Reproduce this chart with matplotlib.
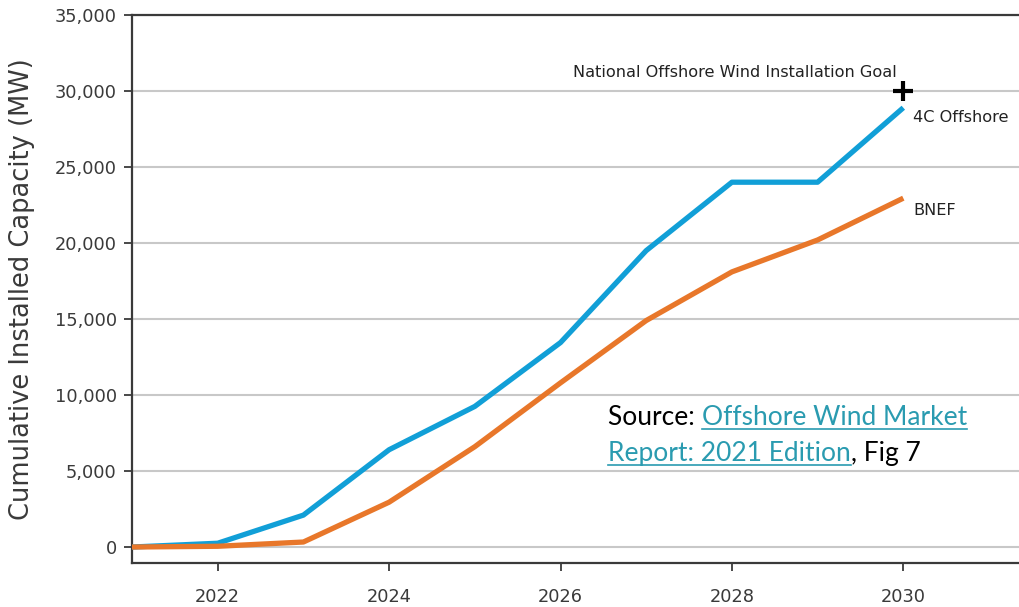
import matplotlib
matplotlib.use("Agg")
import matplotlib.pyplot as plt
from matplotlib.lines import Line2D

years = [2021, 2022, 2023, 2024, 2025, 2026, 2027, 2028, 2029, 2030]
offshore_4c = [0, 250, 2100, 6400, 9250, 13450, 19500, 24000, 24000, 28900]
bnef = [0, 50, 330, 2950, 6600, 10800, 14900, 18100, 20200, 22950]
goal_year = 2030
goal_value = 30000
xticks = [2022, 2024, 2026, 2028, 2030]
yticks = [0, 5000, 10000, 15000, 20000, 25000, 30000, 35000]

FAM = 'DejaVu Sans'
TXT = '#3a3a3a'

fig = plt.figure(figsize=(10.19, 6.07), dpi=100)
ax = fig.add_axes([132 / 1019, 0.0725, 887 / 1019, 0.9028])

ax.plot(years, offshore_4c, color='#119fd7', lw=3.8, solid_capstyle='butt', zorder=3)
ax.plot(years, bnef, color='#e8772a', lw=3.8, solid_capstyle='butt', zorder=3)
ax.plot([goal_year], [goal_value], marker='+', color='black', markersize=14, mew=3, zorder=4)

ax.set_xlim(2021, 2031.35)
ax.set_ylim(-1050, 35000)
ax.set_xticks(xticks)
ax.set_xticklabels([str(t) for t in xticks])
ax.set_yticks(yticks)
ax.set_yticklabels([f"{t:,}" for t in yticks])

for lab in ax.get_xticklabels() + ax.get_yticklabels():
    lab.set_fontfamily(FAM)
    lab.set_fontsize(12.8)
    lab.set_color(TXT)

ax.grid(axis='y', color='#c8c8c8', lw=1.5, zorder=0)
ax.set_axisbelow(True)
for s in ['left', 'bottom', 'top']:
    ax.spines[s].set_color('#3a3a3a')
    ax.spines[s].set_linewidth(1.6)
ax.spines['right'].set_visible(False)
ax.tick_params(axis='both', direction='out', length=6, width=1.3, color='#3a3a3a')
ax.tick_params(axis='x', pad=12)
ax.tick_params(axis='y', pad=5)

ax.set_ylabel('Cumulative Installed Capacity (MW)', fontsize=18.5, color=TXT, family=FAM)
ax.yaxis.set_label_coords(-0.109, 0.5)

ax.annotate('National Offshore Wind Installation Goal', xy=(goal_year, goal_value),
            xytext=(-5, 8), textcoords='offset points', ha='right', va='bottom',
            fontsize=11.6, family=FAM, color='#222222')
ax.annotate('4C Offshore', xy=(years[-1], offshore_4c[-1]), xytext=(7, -7),
            textcoords='offset points', ha='left', va='center',
            fontsize=11.6, family=FAM, color='#222222')
ax.annotate('BNEF', xy=(years[-1], bnef[-1]), xytext=(7, -8.6),
            textcoords='offset points', ha='left', va='center',
            fontsize=11.6, family=FAM, color='#222222')

# Source note with underlined link text
LINK = '#2a9bb0'
fs = 19
fam = ['Lato', 'DejaVu Sans']
fig.canvas.draw()
r = fig.canvas.get_renderer()
x0, y1 = 608 / 1019, 1 - 425 / 607
y2 = 1 - 461 / 607
t1 = fig.text(x0, y1, 'Source: ', fontsize=fs, family=fam, color='black', va='baseline')
bb = t1.get_window_extent(r)
xl = bb.x1 / fig.bbox.width
t2 = fig.text(xl, y1, 'Offshore Wind Market', fontsize=fs, family=fam, color=LINK, va='baseline')
b2 = t2.get_window_extent(r)
t3 = fig.text(x0, y2, 'Report: 2021 Edition', fontsize=fs, family=fam, color=LINK, va='baseline')
b3 = t3.get_window_extent(r)
t4 = fig.text(b3.x1 / fig.bbox.width, y2, ', Fig 7', fontsize=fs, family=fam, color='black', va='baseline')
W, H = fig.bbox.width, fig.bbox.height
ul = 4 / H
fig.add_artist(Line2D([b2.x0 / W, b2.x1 / W], [y1 - ul, y1 - ul], color=LINK, lw=1.2))
fig.add_artist(Line2D([b3.x0 / W, b3.x1 / W], [y2 - ul, y2 - ul], color=LINK, lw=1.2))

fig.savefig('out.png', dpi=100)
